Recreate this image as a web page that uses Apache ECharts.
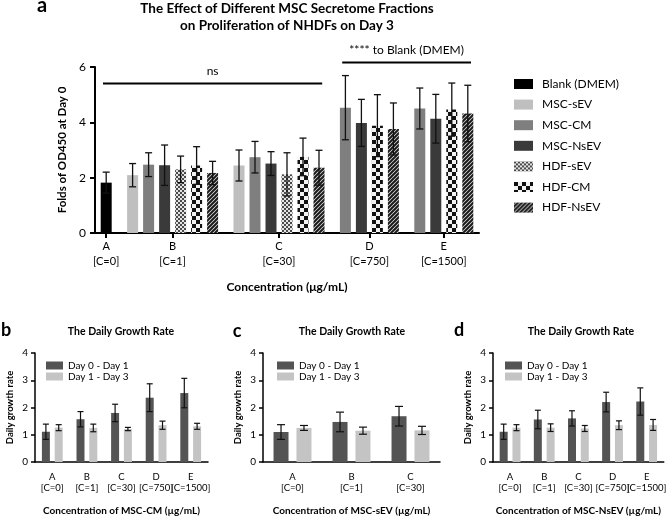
<!DOCTYPE html>
<html>
<head>
<meta charset="utf-8">
<script src="https://cdn.jsdelivr.net/npm/echarts@6/dist/echarts.min.js"></script>
<style>
  html, body { margin: 0; background: #fff; }
  #main { width: 669px; height: 517px; }
</style>
</head>
<body>
<div id="main"></div>
<script>
// ---- panel a : folds of OD450 on day 3 ----
var groupLabels = ['A\n[C=0]', 'B\n[C=1]', 'C\n[C=30]', 'D\n[C=750]', 'E\n[C=1500]'];
var fractions = ['Blank (DMEM)', 'MSC-sEV', 'MSC-CM', 'MSC-NsEV', 'HDF-sEV', 'HDF-CM', 'HDF-NsEV'];
var blankMean   = [1.82, null, null, null, null];
var mscSevMean  = [null, 2.09, 2.44, null, null];
var mscCmMean   = [null, 2.47, 2.74, 4.53, 4.50];
var mscNsevMean = [null, 2.45, 2.51, 3.98, 4.13];
var hdfSevMean  = [null, 2.30, 2.12, null, null];
var hdfCmMean   = [null, 2.44, 2.75, 3.88, 4.46];
var hdfNsevMean = [null, 2.17, 2.36, 3.76, 4.32];
var blankSd   = [0.38, null, null, null, null];
var mscSevSd  = [null, 0.42, 0.56, null, null];
var mscCmSd   = [null, 0.43, 0.57, 1.16, 0.74];
var mscNsevSd = [null, 0.73, 0.43, 0.85, 0.88];
var hdfSevSd  = [null, 0.48, 0.78, null, null];
var hdfCmSd   = [null, 0.68, 0.68, 1.12, 0.96];
var hdfNsevSd = [null, 0.42, 0.63, 0.94, 1.02];
var yTicksA = [0, 2, 4, 6];

// ---- panels b, c, d : daily growth rate ----
var periods = ['Day 0 - Day 1', 'Day 1 - Day 3'];
var cmCats = ['A\n[C=0]', 'B\n[C=1]', 'C\n[C=30]', 'D\n[C=750]', 'E\n[C=1500]'];
var cmDay01 = [1.11, 1.57, 1.80, 2.36, 2.53];
var cmDay01Sd = [0.28, 0.28, 0.32, 0.51, 0.54];
var cmDay13 = [1.26, 1.25, 1.21, 1.35, 1.31];
var cmDay13Sd = [0.11, 0.14, 0.06, 0.15, 0.11];
var sevCats = ['A\n[C=0]', 'B\n[C=1]', 'C\n[C=30]'];
var sevDay01 = [1.10, 1.47, 1.68];
var sevDay01Sd = [0.27, 0.36, 0.36];
var sevDay13 = [1.25, 1.15, 1.16];
var sevDay13Sd = [0.09, 0.13, 0.15];
var nsevCats = ['A\n[C=0]', 'B\n[C=1]', 'C\n[C=30]', 'D\n[C=750]', 'E\n[C=1500]'];
var nsevDay01 = [1.11, 1.56, 1.60, 2.20, 2.22];
var nsevDay01Sd = [0.28, 0.34, 0.28, 0.36, 0.50];
var nsevDay13 = [1.26, 1.26, 1.23, 1.35, 1.36];
var nsevDay13Sd = [0.11, 0.14, 0.11, 0.16, 0.20];

var FONT = 'Lato';

function pattern(w, h, draw) {
  var c = document.createElement('canvas');
  c.width = w; c.height = h;
  draw(c.getContext('2d'));
  return { image: c, repeat: 'repeat' };
}
var fineChecker = pattern(4, 4, function (g) {
  g.fillStyle = '#e4e4e4'; g.fillRect(0, 0, 4, 4);
  g.fillStyle = '#4a4a4a'; g.fillRect(0, 0, 2, 2); g.fillRect(2, 2, 2, 2);
});
var bigChecker = pattern(8, 8, function (g) {
  g.fillStyle = '#f2f2f2'; g.fillRect(0, 0, 8, 8);
  g.fillStyle = '#111'; g.fillRect(0, 0, 4, 4); g.fillRect(4, 4, 4, 4);
});
var hatch = pattern(4, 4, function (g) {
  g.fillStyle = '#e0e0e0'; g.fillRect(0, 0, 4, 4);
  g.strokeStyle = '#1a1a1a'; g.lineWidth = 2;
  g.beginPath();
  g.moveTo(-1, 5); g.lineTo(5, -1);
  g.moveTo(-1, 1); g.lineTo(1, -1);
  g.moveTo(3, 5); g.lineTo(5, 3);
  g.stroke();
});
var fractionColors = ['#000', '#bfbfbf', '#7f7f7f', '#3a3a3a', fineChecker, bigChecker, hatch];
var periodColors = ['#545454', '#c4c4c4'];

// place the bars of panel a on a value axis: one unit per bar, wider gap between groups
var means = [blankMean, mscSevMean, mscCmMean, mscNsevMean, hdfSevMean, hdfCmMean, hdfNsevMean];
var sds = [blankSd, mscSevSd, mscCmSd, mscNsevSd, hdfSevSd, hdfCmSd, hdfNsevSd];
var seriesData = fractions.map(function () { return []; });
var errData = [];
var groupCenters = [], groupFirst = [], groupLast = [];
var x = null;
groupLabels.forEach(function (lab, gi) {
  var first = null, last = null;
  fractions.forEach(function (f, fi) {
    if (means[fi][gi] == null) return;
    if (x === null) x = 0.7;
    else x += (first === null) ? 1.65 : 1;
    if (first === null) first = x;
    last = x;
    seriesData[fi].push([x, means[fi][gi]]);
    errData.push([x, means[fi][gi], sds[fi][gi]]);
  });
  groupFirst.push(first); groupLast.push(last);
  groupCenters.push((first + last) / 2);
});
var xMaxA = x + 0.7;
var brackets = [
  [groupFirst[0] - 0.2, groupLast[2] + 0.2, 5.4, 'ns'],
  [groupFirst[3] - 0.2, groupLast[4] + 0.2, 6.16, '**** to Blank (DMEM)']
];

function errRenderer(cap, lw, offset) {
  return function (params, api) {
    var v = api.value(1), s = api.value(2);
    var dx = offset ? (api.value(3) === 0 ? -offset : offset) : 0;
    var hi = api.coord([api.value(0), v + s]);
    var lo = api.coord([api.value(0), v - s]);
    var cx = hi[0] + dx;
    var st = { stroke: '#111', lineWidth: lw };
    return {
      type: 'group',
      children: [
        { type: 'line', shape: { x1: cx, y1: lo[1], x2: cx, y2: hi[1] }, style: st },
        { type: 'line', shape: { x1: cx - cap, y1: hi[1], x2: cx + cap, y2: hi[1] }, style: st },
        { type: 'line', shape: { x1: cx - cap, y1: lo[1], x2: cx + cap, y2: lo[1] }, style: st }
      ]
    };
  };
}

function bracketRenderer(params, api) {
  var a = api.coord([api.value(0), api.value(2)]);
  var b = api.coord([api.value(1), api.value(2)]);
  return {
    type: 'group',
    children: [
      { type: 'line', shape: { x1: a[0], y1: a[1], x2: b[0], y2: b[1] }, style: { stroke: '#000', lineWidth: 2 } },
      { type: 'text', x: (a[0] + b[0]) / 2, y: a[1] - 12,
        style: { text: brackets[params.dataIndex][3], align: 'center', verticalAlign: 'middle',
                 font: '12px ' + FONT, fill: '#000' } }
    ]
  };
}

var grids = [
  { left: 95, top: 67, width: 384, height: 166 },
  { left: 35, top: 353, width: 173, height: 114 },
  { left: 263, top: 353, width: 177, height: 113 },
  { left: 493, top: 353, width: 175, height: 114 }
];

function smallX(gi, cats, name) {
  return {
    type: 'category', gridIndex: gi, data: cats, name: name,
    nameLocation: 'middle', nameGap: 44,
    nameTextStyle: { fontFamily: FONT, fontWeight: 'bold', fontSize: 10, color: '#000' },
    axisLine: { lineStyle: { color: '#000', width: 1.5 } },
    axisTick: { alignWithLabel: true, length: 4, lineStyle: { color: '#000', width: 1.5 } },
    axisLabel: { interval: 0, fontFamily: FONT, fontSize: 9.5, color: '#000', lineHeight: 11, margin: 9 },
    splitLine: { show: false }
  };
}
function smallY(gi) {
  return {
    type: 'value', gridIndex: gi, min: 0, max: 4, interval: 1,
    name: 'Daily growth rate', nameLocation: 'middle', nameGap: 20, nameRotate: 90,
    nameTextStyle: { fontFamily: FONT, fontWeight: 'bold', fontSize: 9.5, color: '#000' },
    axisLine: { show: true, lineStyle: { color: '#000', width: 1.5 } },
    axisTick: { show: true, length: 4, lineStyle: { color: '#000', width: 1.5 } },
    axisLabel: { fontFamily: FONT, fontSize: 10, color: '#000', margin: 7 },
    splitLine: { show: false }
  };
}

var series = [];
fractions.forEach(function (f, fi) {
  series.push({
    name: f, type: 'bar', xAxisIndex: 0, yAxisIndex: 0,
    data: seriesData[fi], barWidth: 11, barGap: '-100%',
    itemStyle: { color: fractionColors[fi] }
  });
});
series.push({
  name: 'err-a', type: 'custom', xAxisIndex: 0, yAxisIndex: 0, z: 5,
  renderItem: errRenderer(3.5, 1.3, 0), data: errData, encode: { x: 0, y: 1 }
});
series.push({
  name: 'brackets', type: 'custom', xAxisIndex: 0, yAxisIndex: 0, clip: false, silent: true,
  renderItem: bracketRenderer, data: brackets.map(function (b) { return [b[0], b[1], b[2]]; }),
  encode: { x: [0, 1], y: 2 }
});

var panels = [
  { grid: 1, cats: cmCats, vals: [cmDay01, cmDay13], sd: [cmDay01Sd, cmDay13Sd], bw: 8, gap: 0.6, cap: 3 },
  { grid: 2, cats: sevCats, vals: [sevDay01, sevDay13], sd: [sevDay01Sd, sevDay13Sd], bw: 15, gap: 0.53, cap: 4 },
  { grid: 3, cats: nsevCats, vals: [nsevDay01, nsevDay13], sd: [nsevDay01Sd, nsevDay13Sd], bw: 8, gap: 0.6, cap: 3 }
];
panels.forEach(function (p) {
  var err = [];
  periods.forEach(function (name, si) {
    series.push({
      name: name, type: 'bar', xAxisIndex: p.grid, yAxisIndex: p.grid,
      data: p.vals[si], barWidth: p.bw, barGap: (p.gap * 100) + '%',
      itemStyle: { color: periodColors[si] }
    });
    p.vals[si].forEach(function (v, ci) { err.push([ci, v, p.sd[si][ci], si]); });
  });
  series.push({
    name: 'err-' + p.grid, type: 'custom', xAxisIndex: p.grid, yAxisIndex: p.grid, z: 5,
    renderItem: errRenderer(p.cap, 1.2, p.bw * (1 + p.gap) / 2), data: err, encode: { x: 0, y: 1 }
  });
});

function smallLegend(left) {
  return {
    data: periods, orient: 'vertical', left: left, top: 355, itemWidth: 17, itemHeight: 8, itemGap: 0,
    icon: 'rect', selectedMode: false,
    textStyle: { fontFamily: FONT, fontSize: 10, lineHeight: 11, color: '#000' }
  };
}

function txt(text, x, y, font, align) {
  return { type: 'text', x: x, y: y,
    style: { text: text, font: font, fill: '#000', align: align || 'center', verticalAlign: 'middle', lineHeight: 17 } };
}

var chart = echarts.init(document.getElementById('main'), null, { renderer: 'canvas' });
chart.setOption({
  animation: false,
  backgroundColor: '#fff',
  grid: grids,
  xAxis: [
    {
      type: 'value', gridIndex: 0, min: 0, max: xMaxA,
      name: 'Concentration (μg/mL)', nameLocation: 'middle', nameGap: 48,
      nameTextStyle: { fontFamily: FONT, fontWeight: 'bold', fontSize: 12, color: '#000' },
      axisLine: { lineStyle: { color: '#000', width: 2 } },
      axisTick: { show: true, customValues: groupCenters, length: 5, lineStyle: { color: '#000', width: 2 } },
      axisLabel: {
        customValues: groupCenters, fontFamily: FONT, fontSize: 11, color: '#000', lineHeight: 15, margin: 6,
        formatter: function (v) {
          for (var i = 0; i < groupCenters.length; i++) {
            if (Math.abs(groupCenters[i] - v) < 0.01) return groupLabels[i];
          }
          return '';
        }
      },
      splitLine: { show: false }
    },
    smallX(1, cmCats, 'Concentration of MSC-CM (µg/mL)'),
    smallX(2, sevCats, 'Concentration of MSC-sEV (µg/mL)'),
    smallX(3, nsevCats, 'Concentration of MSC-NsEV (µg/mL)')
  ],
  yAxis: [
    {
      type: 'value', gridIndex: 0, min: 0, max: 6, interval: 2,
      name: 'Folds of OD450 at Day 0', nameLocation: 'middle', nameGap: 25, nameRotate: 90,
      nameTextStyle: { fontFamily: FONT, fontWeight: 'bold', fontSize: 11.5, color: '#000' },
      axisLine: { show: true, lineStyle: { color: '#000', width: 2 } },
      axisTick: { show: true, length: 5, lineStyle: { color: '#000', width: 2 } },
      axisLabel: { fontFamily: FONT, fontSize: 12, color: '#000', margin: 9,
        formatter: function (v) { return yTicksA.indexOf(v) >= 0 ? v : ''; } },
      splitLine: { show: false }
    },
    smallY(1), smallY(2), smallY(3)
  ],
  legend: [
    {
      data: fractions, orient: 'vertical', left: 509, top: 73, itemWidth: 19, itemHeight: 10, itemGap: 8.6,
      icon: 'rect', selectedMode: false,
      textStyle: { fontFamily: FONT, fontSize: 12, color: '#000', padding: [0, 0, 0, 4] }
    },
    smallLegend(41), smallLegend(272), smallLegend(500)
  ],
  graphic: [
    txt('The Effect of Different MSC Secretome Fractions\non Proliferation of NHDFs on Day 3', 287, 17, 'bold 13.5px ' + FONT),
    txt('a', 42, 6, 'bold 20px ' + FONT),
    txt('b', 6, 330, 'bold 18px ' + FONT),
    txt('c', 237, 331, 'bold 18px ' + FONT),
    txt('d', 459, 330, 'bold 18px ' + FONT),
    txt('The Daily Growth Rate', 121, 332, 'bold 10.5px ' + FONT),
    txt('The Daily Growth Rate', 352, 332, 'bold 10.5px ' + FONT),
    txt('The Daily Growth Rate', 581, 332, 'bold 10.5px ' + FONT)
  ],
  series: series
});
</script>
</body>
</html>
